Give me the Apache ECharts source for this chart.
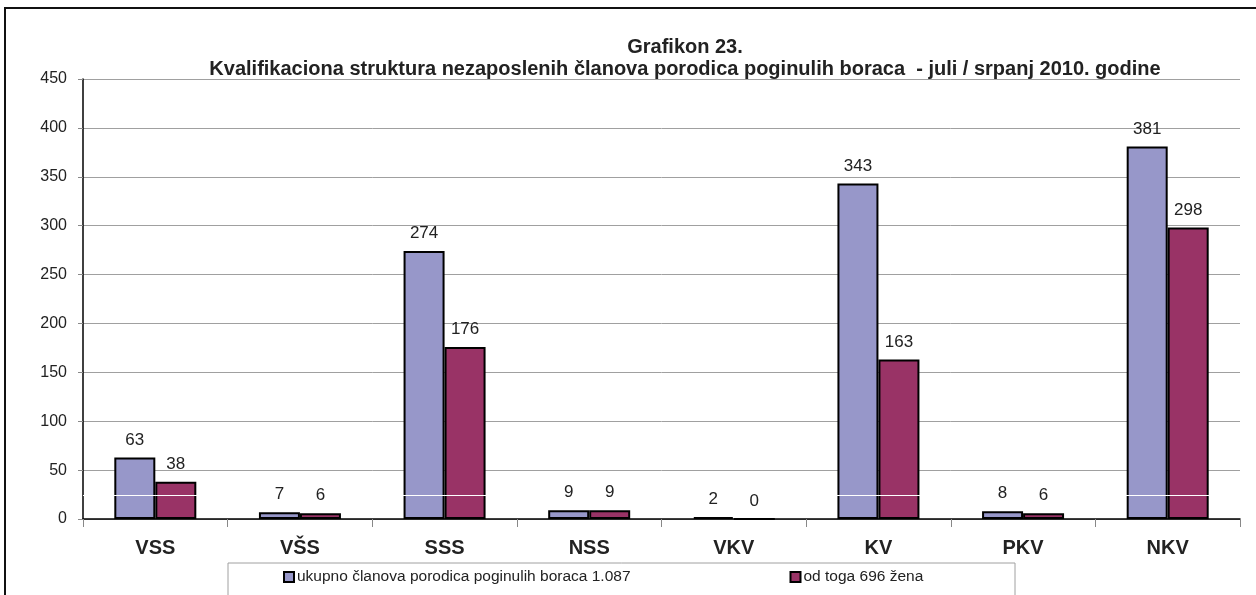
<!DOCTYPE html>
<html>
<head>
<meta charset="utf-8">
<script src="https://cdn.jsdelivr.net/npm/echarts@6/dist/echarts.min.js"></script>
<style>
  html, body { margin: 0; padding: 0; background: #fff; }
  #chart-panel { width: 1256px; height: 595px; }
</style>
</head>
<body>
<div id="chart-panel"></div>
<script>
var categories = ['VSS', 'VŠS', 'SSS', 'NSS', 'VKV', 'KV', 'PKV', 'NKV'];
var ukupno = [63, 7, 274, 9, 2, 343, 8, 381];
var zene = [38, 6, 176, 9, 0, 163, 6, 298];
var seriesNames = ['ukupno članova porodica poginulih boraca 1.087', 'od toga 696 žena'];
var yTicks = [0, 450, 50]; // min, max, interval

var chart = document.getElementById('chart-panel');
var myChart = echarts.init(chart);

var font = 'Arial, "Liberation Sans", sans-serif';
var valueLabel = { show: true, position: 'top', distance: 9, fontFamily: font, fontSize: 17, color: '#222' };

var option = {
  animation: false,
  backgroundColor: '#fff',
  textStyle: { fontFamily: font },
  title: {
    text: 'Grafikon 23.\nKvalifikaciona struktura nezaposlenih članova porodica poginulih boraca  - juli / srpanj 2010. godine',
    left: 680,
    top: 31,
    textAlign: 'center',
    textStyle: {
      fontFamily: font,
      fontSize: 20,
      fontWeight: 'bold',
      color: '#222',
      lineHeight: 22,
      align: 'center'
    }
  },
  grid: { left: 83, right: 16, top: 79, bottom: 76 },
  legend: {
    left: 283,
    top: 569,
    padding: 0,
    itemWidth: 10,
    itemHeight: 10,
    itemGap: 159,
    icon: 'rect',
    textStyle: { fontFamily: font, fontSize: 15.5, color: '#222', padding: [0, 0, 0, -2] },
    data: seriesNames
  },
  graphic: [
    {
      type: 'rect',
      shape: { x: 228, y: 563, width: 787, height: 60 },
      style: { fill: 'none', stroke: '#a0a0a0', lineWidth: 1 },
      z: -1
    },
    {
      type: 'rect',
      shape: { x: 5, y: 8, width: 1300, height: 620 },
      style: { fill: 'none', stroke: '#111', lineWidth: 2 }
    }
  ],
  xAxis: [
    {
      type: 'category',
      data: categories,
      axisLine: { lineStyle: { color: '#000', width: 1.5 } },
      axisTick: { show: true, alignWithLabel: false, length: 8, lineStyle: { color: '#888' } },
      axisLabel: { fontFamily: font, fontSize: 20, fontWeight: 'bold', color: '#222', margin: 19 }
    },
    // hidden twin axis, only carries the value labels above the white line
    { type: 'category', data: categories, show: false }
  ],
  yAxis: {
    type: 'value',
    min: yTicks[0],
    max: yTicks[1],
    interval: yTicks[2],
    axisLine: { show: true, lineStyle: { color: '#000', width: 1.5 } },
    axisTick: { show: true, length: 5, lineStyle: { color: '#888' } },
    axisLabel: { fontFamily: font, fontSize: 16, color: '#222', margin: 16 },
    splitLine: { lineStyle: { color: '#a0a0a0', width: 1 } }
  },
  series: [
    {
      name: seriesNames[0],
      type: 'bar',
      data: ukupno,
      barWidth: 41,
      barGap: '0%',
      itemStyle: { color: '#9797c9', borderColor: '#000', borderWidth: 2 }
    },
    {
      name: seriesNames[1],
      type: 'bar',
      data: zene,
      barWidth: 41,
      barGap: '0%',
      itemStyle: { color: '#993366', borderColor: '#000', borderWidth: 2 },
      markLine: {
        z: 3,
        silent: true,
        symbol: 'none',
        label: { show: false },
        lineStyle: { color: '#fff', width: 1, type: 'solid' },
        data: [{ yAxis: 24.5 }]
      }
    },
    {
      name: 'oznake-ukupno',
      type: 'bar',
      xAxisIndex: 1,
      data: ukupno,
      barWidth: 41,
      barGap: '0%',
      z: 4,
      silent: true,
      itemStyle: { color: 'transparent', borderWidth: 0 },
      label: valueLabel
    },
    {
      name: 'oznake-zene',
      type: 'bar',
      xAxisIndex: 1,
      data: zene,
      barWidth: 41,
      barGap: '0%',
      z: 4,
      silent: true,
      itemStyle: { color: 'transparent', borderWidth: 0 },
      label: valueLabel
    }
  ]
};

myChart.setOption(option);
</script>
</body>
</html>
